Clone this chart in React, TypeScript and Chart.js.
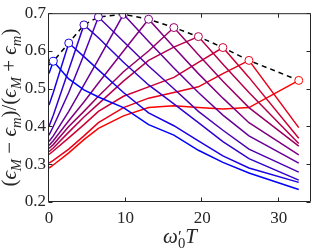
import React, { useEffect, useRef } from "react";
import { Chart, registerables } from "chart.js";

Chart.register(...registerables);

// x positions (omega'_0 T) shared by all curves
const omegaT = [0, 0.56, 2.58, 4.56, 6.45, 9.72, 13.0, 16.3, 19.5, 22.7, 26.1, 32.6];

// contrast curves, blue -> red
const curve01 = [0.54, 0.5726, 0.526, 0.497, 0.478, 0.45, 0.405, 0.377, 0.337, 0.305, 0.277, 0.233];
const curve02 = [0.457, 0.49, 0.621, 0.585, 0.55, 0.49, 0.436, 0.402, 0.362, 0.322, 0.29, 0.252];
const curve03 = [0.4, 0.43, 0.55, 0.669, 0.635, 0.57, 0.51, 0.46, 0.41, 0.36, 0.315, 0.258];
const curve04 = [0.377, 0.4, 0.49, 0.59, 0.69, 0.625, 0.56, 0.5, 0.44, 0.39, 0.34, 0.279];
const curve05 = [0.36, 0.375, 0.44, 0.51, 0.578, 0.697, 0.625, 0.555, 0.49, 0.43, 0.375, 0.303];
const curve06 = [0.35, 0.362, 0.415, 0.465, 0.515, 0.6, 0.684, 0.61, 0.54, 0.475, 0.41, 0.325];
const curve07 = [0.342, 0.352, 0.4, 0.44, 0.48, 0.545, 0.6, 0.662, 0.59, 0.52, 0.45, 0.348];
const curve08 = [0.333, 0.343, 0.385, 0.425, 0.46, 0.52, 0.575, 0.61, 0.638, 0.565, 0.49, 0.355];
const curve09 = [0.326, 0.335, 0.37, 0.405, 0.44, 0.48, 0.505, 0.53, 0.57, 0.609, 0.53, 0.369];
const curve10 = [0.303, 0.31, 0.34, 0.375, 0.41, 0.45, 0.475, 0.49, 0.505, 0.54, 0.575, 0.397];
const curve11 = [0.29, 0.298, 0.33, 0.365, 0.395, 0.428, 0.45, 0.455, 0.45, 0.446, 0.45, 0.522];

const curves = [curve01, curve02, curve03, curve04, curve05, curve06, curve07, curve08, curve09, curve10, curve11];
const curveColors = [
  "#0000ff", "#1a00e6", "#3300cc", "#4d00b3", "#660099", "#800080",
  "#990066", "#b3004d", "#cc0033", "#e6001a", "#ff0000",
];

// dashed envelope of maxima (first point at x = 0)
const envelope = [0.563, 0.5726, 0.621, 0.669, 0.69, 0.697, 0.684, 0.662, 0.638, 0.609, 0.575, 0.522];

const xTickValues = [0, 10, 20, 30];
const yTickValues = [0.2, 0.3, 0.4, 0.5, 0.6, 0.7];
const xRange = [0, 34.2];
const yRange = [0.2, 0.7];

const FONT = '"Liberation Serif", "DejaVu Serif", serif';
const AXIS_COLOR = "#262626";

type Seg = { t: string; italic?: boolean; scale?: number; dy?: number; adv?: boolean };

function segFont(s: Seg, base: number) {
  return `${s.italic ? "italic " : ""}${(base * (s.scale || 1)).toFixed(1)}px ${FONT}`;
}
function measureSegs(ctx: CanvasRenderingContext2D, segs: Seg[], base: number) {
  let w = 0;
  for (const s of segs) {
    ctx.font = segFont(s, base);
    if (s.adv !== false) w += ctx.measureText(s.t).width;
  }
  return w;
}
function drawSegs(ctx: CanvasRenderingContext2D, segs: Seg[], x: number, y: number, base: number) {
  let cx = x;
  for (const s of segs) {
    ctx.font = segFont(s, base);
    ctx.fillText(s.t, cx, y + (s.dy || 0) * base);
    if (s.adv !== false) cx += ctx.measureText(s.t).width;
  }
}

const yLabel: Seg[] = [
  { t: "(" },
  { t: "ϵ", italic: true },
  { t: "M", italic: true, scale: 0.7, dy: 0.22 },
  { t: " − " },
  { t: "ϵ", italic: true },
  { t: "m", italic: true, scale: 0.7, dy: 0.22 },
  { t: ")/(" },
  { t: "ϵ", italic: true },
  { t: "M", italic: true, scale: 0.7, dy: 0.22 },
  { t: " + " },
  { t: "ϵ", italic: true },
  { t: "m", italic: true, scale: 0.7, dy: 0.22 },
  { t: ")" },
];
const xLabel: Seg[] = [
  { t: "ω", italic: true },
  { t: "′", scale: 0.8, dy: -0.05, adv: false },
  { t: "0", scale: 0.7, dy: 0.22 },
  { t: "T", italic: true },
];

const framePlugin = {
  id: "frame",
  afterDraw(chart: any) {
    const { ctx, chartArea } = chart;
    const { left, right, top, bottom } = chartArea;
    const xs = chart.scales.x;
    const ys = chart.scales.y;
    ctx.save();
    ctx.strokeStyle = AXIS_COLOR;
    ctx.lineWidth = 1;
    const L = left - 0.5, R = right - 0.5, T = top + 0.5, B = bottom - 0.5;
    ctx.beginPath();
    ctx.rect(L, T, R - L, B - T);
    ctx.stroke();
    const tl = 4;
    ctx.beginPath();
    for (const v of xTickValues) {
      const px = Math.round(xs.getPixelForValue(v)) - 0.5;
      ctx.moveTo(px, B); ctx.lineTo(px, B - tl);
      ctx.moveTo(px, T); ctx.lineTo(px, T + tl);
    }
    for (const v of yTickValues) {
      const py = Math.round(ys.getPixelForValue(v)) + 0.5;
      ctx.moveTo(L, py); ctx.lineTo(L + tl, py);
      ctx.moveTo(R, py); ctx.lineTo(R - tl, py);
    }
    ctx.stroke();

    ctx.fillStyle = AXIS_COLOR;
    ctx.textBaseline = "alphabetic";
    ctx.textAlign = "left";
    const base = 21;
    // x label
    const wx = measureSegs(ctx, xLabel, base);
    drawSegs(ctx, xLabel, (left + right) / 2 - wx / 2, 243, base);
    // y label
    const wy = measureSegs(ctx, yLabel, base);
    ctx.translate(16, (top + bottom) / 2);
    ctx.rotate(-Math.PI / 2);
    drawSegs(ctx, yLabel, -wy / 2, 0, base);
    ctx.restore();
  },
};

export default function App() {
  const ref = useRef<HTMLCanvasElement>(null);
  useEffect(() => {
    document.body.style.margin = "0";
    const canvas = ref.current!;
    const lineSets = curves.map((c, i) => ({
      type: "line" as const,
      data: c.map((v, j) => ({ x: omegaT[j], y: v })),
      borderColor: curveColors[i],
      borderWidth: 1.5,
      pointRadius: 0,
      fill: false,
      tension: 0,
    }));
    const markerSet = {
      type: "scatter" as const,
      data: envelope.slice(1).map((v, j) => ({ x: omegaT[j + 1], y: v })),
      pointRadius: 4,
      pointBorderWidth: 1,
      pointBorderColor: curveColors,
      pointBackgroundColor: "#ffffff",
      showLine: false,
    };
    const envSet = {
      type: "line" as const,
      data: envelope.map((v, j) => ({ x: omegaT[j], y: v })),
      borderColor: "#000000",
      borderWidth: 1.5,
      borderDash: [5, 4],
      pointRadius: 0,
      fill: false,
      tension: 0,
    };
    const chart = new Chart(canvas, {
      type: "line",
      data: { datasets: [markerSet as any, envSet, ...lineSets] },
      options: {
        responsive: false,
        animation: false,
        devicePixelRatio: 1,
        layout: { padding: { left: 0, right: 3, top: 7, bottom: 0 } },
        plugins: { legend: { display: false }, tooltip: { enabled: false } },
        scales: {
          x: {
            type: "linear",
            min: xRange[0],
            max: xRange[1],
            grid: { display: false, drawTicks: false },
            border: { display: false },
            afterBuildTicks: (s: any) => { s.ticks = xTickValues.map((v) => ({ value: v })); },
            afterFit: (s: any) => { s.height = 46; },
            ticks: {
              color: AXIS_COLOR,
              font: { family: FONT, size: 17 },
              padding: 6,
              maxRotation: 0,
              callback: (v: any) => String(v),
            },
          },
          y: {
            type: "linear",
            min: yRange[0],
            max: yRange[1],
            grid: { display: false, drawTicks: false },
            border: { display: false },
            afterBuildTicks: (s: any) => { s.ticks = yTickValues.map((v) => ({ value: v })); },
            afterFit: (s: any) => { s.width = 49; },
            ticks: {
              color: AXIS_COLOR,
              font: { family: FONT, size: 17 },
              padding: 3,
              callback: (v: any) => Number(v).toFixed(1),
            },
          },
        },
      },
      plugins: [framePlugin],
    });
    return () => chart.destroy();
  }, []);
  return (
    <div style={{ width: 316, height: 248 }}>
      <canvas ref={ref} width={316} height={248} style={{ display: "block" }} />
    </div>
  );
}
